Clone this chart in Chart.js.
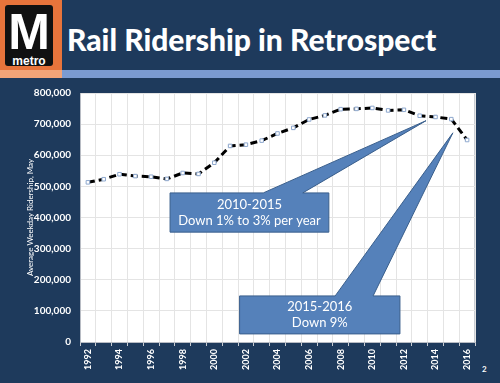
<!DOCTYPE html>
<html>
<head>
<meta charset="utf-8">
<script src="https://cdn.jsdelivr.net/npm/chart.js@4.4.0/dist/chart.umd.min.js"></script>
<style>
  html, body { margin: 0; padding: 0; }
  body { width: 500px; height: 383px; background: #1e3a5c; position: relative; overflow: hidden; font-family: Lato, sans-serif; }
  .logo { position: absolute; left: 0; top: 0; width: 62px; height: 70px; background: #e8743b; }
  .logo-box { position: absolute; left: 5px; top: 5px; width: 48px; height: 61px; background: #111; border-radius: 3px; color: #fff; text-align: center; }
  .logo-m { font: bold 50px/46px "Liberation Sans", sans-serif; margin-top: 4px; }
  .logo-t { font: bold 12px/12px "Liberation Sans", sans-serif; margin-top: 0px; }
  .strip { position: absolute; left: 62px; top: 70px; width: 438px; height: 8px; background: #7b9bd1; }
  .strip-o { position: absolute; left: 0; top: 70px; width: 62px; height: 8px; background: #f2a478; }
  .title { position: absolute; left: 67px; top: 21px; color: #fff; font: 900 30px Lato, sans-serif; white-space: nowrap; }
  .pg { position: absolute; left: 482px; top: 364px; color: #fff; font: bold 8px Lato, sans-serif; }
  #wrap { position: absolute; left: 0; top: 0; width: 500px; height: 383px; }
</style>
</head>
<body>
<div class="logo"><div class="logo-box"><div class="logo-m">M</div><div class="logo-t">metro</div></div></div>
<div class="strip-o"></div>
<div class="strip"></div>
<div class="title">Rail Ridership in Retrospect</div>
<div class="pg">2</div>
<div id="wrap"><canvas id="c" width="500" height="383"></canvas></div>
<script>
const years = ['1992','1993','1994','1995','1996','1997','1998','1999','2000','2001','2002','2003','2004',
  '2005','2006','2007','2008','2009','2010','2011','2012','2013','2014','2015','2016'];
const ridership = [513000, 523000, 539000, 533000, 531000, 524000, 543000, 540000, 576000, 630000, 634000, 647000, 670000,
  688000, 715000, 728000, 748000, 749000, 752000, 744000, 746000, 727000, 723000, 716000, 649000];
const yTicksMax = 800000;

// callouts: box in [category index, value] units, wedge base on top edge, tip near the line
const callouts = [
  { lines: ['2010-2015', 'Down 1% to 3% per year'], x0: 5.2, x1: 15.25, yTop: 479000, yBot: 353000, w0: 11.1, w1: 13.6, tipX: 21.4, tipY: 711000 },
  { lines: ['2015-2016', 'Down 9%'], x0: 9.6, x1: 19.75, yTop: 148000, yBot: 26000, w0: 15.65, w1: 18.05, tipX: 23.1, tipY: 672000 }
];

const plotBg = {
  id: 'plotBg',
  beforeDraw(chart) {
    const { ctx, chartArea: a } = chart;
    ctx.save();
    ctx.fillStyle = '#ffffff';
    ctx.fillRect(a.left, a.top, a.right - a.left, a.bottom - a.top);
    ctx.strokeStyle = '#c8ccd2';
    ctx.lineWidth = 1;
    ctx.strokeRect(a.left + 0.5, a.top + 0.5, a.right - a.left - 1, a.bottom - a.top);
    ctx.restore();
  }
};

const calloutPlugin = {
  id: 'callouts',
  afterDatasetsDraw(chart) {
    const { ctx, scales: { x, y } } = chart;
    ctx.save();
    callouts.forEach(c => {
      const l = x.getPixelForValue(c.x0), r = x.getPixelForValue(c.x1);
      const t = y.getPixelForValue(c.yTop), b = y.getPixelForValue(c.yBot);
      ctx.beginPath();
      ctx.moveTo(l, t);
      ctx.lineTo(x.getPixelForValue(c.w0), t);
      ctx.lineTo(x.getPixelForValue(c.tipX), y.getPixelForValue(c.tipY));
      ctx.lineTo(x.getPixelForValue(c.w1), t);
      ctx.lineTo(r, t);
      ctx.lineTo(r, b);
      ctx.lineTo(l, b);
      ctx.closePath();
      ctx.fillStyle = '#5581ba';
      ctx.fill();
      ctx.strokeStyle = '#3a5f8c';
      ctx.lineWidth = 1;
      ctx.stroke();
      ctx.fillStyle = '#ffffff';
      ctx.font = '13px Lato';
      ctx.textAlign = 'center';
      ctx.textBaseline = 'middle';
      const cx = (l + r) / 2, cy = (t + b) / 2;
      ctx.fillText(c.lines[0], cx, cy - 8);
      ctx.fillText(c.lines[1], cx, cy + 8);
    });
    ctx.restore();
  }
};

new Chart(document.getElementById('c'), {
  type: 'line',
  data: {
    labels: years,
    datasets: [{
      data: ridership,
      borderColor: '#000000',
      borderWidth: 3,
      borderDash: [7, 4],
      tension: 0,
      pointStyle: 'rect',
      pointRadius: 2.5,
      pointBackgroundColor: '#ffffff',
      pointBorderColor: '#8fa9cf',
      pointBorderWidth: 1
    }]
  },
  options: {
    responsive: false,
    animation: false,
    layout: { padding: { left: 22, top: 93, right: 25, bottom: 0 } },
    plugins: { legend: { display: false }, tooltip: { enabled: false } },
    scales: {
      x: {
        offset: true,
        grid: { offset: true, color: '#e4e4e4', tickColor: '#c8ccd2', tickLength: 4 },
        border: { color: '#b8bcc4' },
        ticks: {
          autoSkip: false, maxRotation: 90, minRotation: 90, padding: 3,
          color: '#ffffff', font: { family: 'Lato', size: 9, weight: 'bold' },
          callback(v, i) { return i % 2 === 0 ? years[i] : ''; }
        },
        afterFit(s) { s.height = 41; }
      },
      y: {
        min: 0, max: yTicksMax,
        grid: { color: '#e4e4e4', drawTicks: false },
        border: { color: '#b8bcc4' },
        ticks: {
          stepSize: 100000, padding: 9, color: '#ffffff',
          font: { family: 'Lato', size: 10, weight: 'bold' },
          callback: v => v.toLocaleString('en-US')
        },
        title: { display: true, text: 'Average Weekday Ridership, May', color: '#ffffff', font: { family: 'Lato', size: 8 } },
        afterFit(s) { s.width = 58; }
      }
    }
  },
  plugins: [plotBg, calloutPlugin]
});
</script>
</body>
</html>
